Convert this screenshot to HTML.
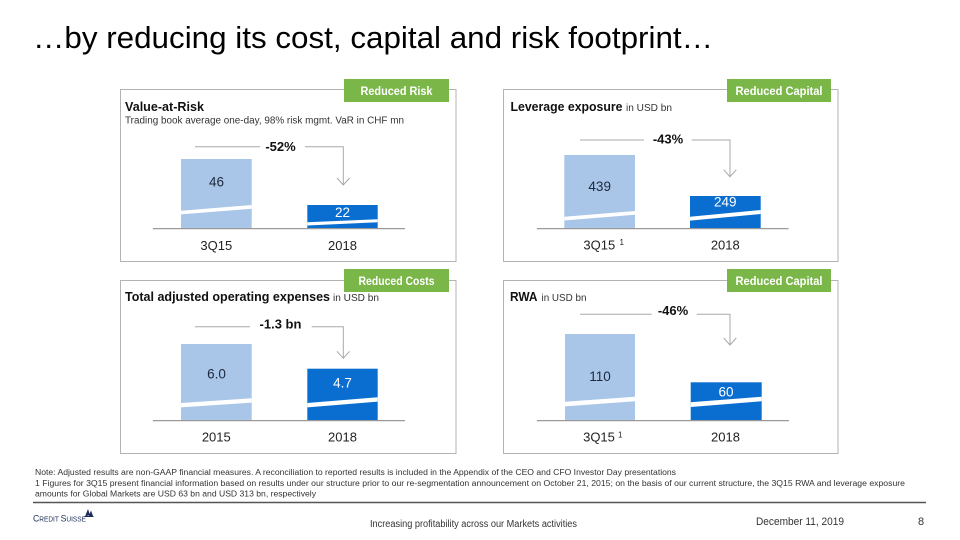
<!DOCTYPE html>
<html>
<head>
<meta charset="utf-8">
<style>
html,body{margin:0;padding:0;background:#fff;}
svg{display:block;}
text{font-family:"Liberation Sans",Arial,sans-serif;}
</style>
</head>
<body>
<svg width="960" height="540" viewBox="0 0 960 540" xmlns="http://www.w3.org/2000/svg">
<rect x="0" y="0" width="960" height="540" fill="#fff"/>

<!-- Title -->
<text x="33" y="48" font-size="30.5" fill="#000" textLength="680" lengthAdjust="spacingAndGlyphs">…by reducing its cost, capital and risk footprint…</text>

<!-- ===== Panel boxes ===== -->
<g fill="none" stroke="#b3b3b3" stroke-width="1">
  <rect x="120.5" y="89.5" width="335.5" height="172"/>
  <rect x="503.5" y="89.5" width="334.5" height="172"/>
  <rect x="120.5" y="280.5" width="335.5" height="173"/>
  <rect x="503.5" y="280.5" width="334.5" height="173"/>
</g>

<!-- Green labels -->
<g fill="#7ab648">
  <rect x="344" y="79" width="105" height="23"/>
  <rect x="727" y="79" width="104" height="23"/>
  <rect x="344" y="269" width="105" height="23"/>
  <rect x="727" y="269" width="104" height="23"/>
</g>
<g fill="#fff" font-weight="bold" font-size="11.5" text-anchor="middle">
  <text x="396.5" y="95" textLength="72" lengthAdjust="spacingAndGlyphs">Reduced Risk</text>
  <text x="779" y="95" textLength="87" lengthAdjust="spacingAndGlyphs">Reduced Capital</text>
  <text x="396.5" y="285" textLength="76" lengthAdjust="spacingAndGlyphs">Reduced Costs</text>
  <text x="779" y="285" textLength="87" lengthAdjust="spacingAndGlyphs">Reduced Capital</text>
</g>

<!-- Panel titles -->
<text x="125" y="111" font-size="12.5" font-weight="bold" fill="#111" textLength="79" lengthAdjust="spacingAndGlyphs">Value-at-Risk</text>
<text x="125" y="123.5" font-size="10" fill="#333" textLength="279" lengthAdjust="spacingAndGlyphs">Trading book average one-day, 98% risk mgmt. VaR in CHF mn</text>

<text x="510.5" y="111" font-size="12.5" font-weight="bold" fill="#111" textLength="112" lengthAdjust="spacingAndGlyphs">Leverage exposure</text>
<text x="626" y="111" font-size="10" fill="#333" textLength="46" lengthAdjust="spacingAndGlyphs">in USD bn</text>

<text x="125" y="301" font-size="12.5" font-weight="bold" fill="#111" textLength="205" lengthAdjust="spacingAndGlyphs">Total adjusted operating expenses</text>
<text x="333" y="301" font-size="10" fill="#333" textLength="46" lengthAdjust="spacingAndGlyphs">in USD bn</text>

<text x="510" y="301" font-size="12.5" font-weight="bold" fill="#111" textLength="27.5" lengthAdjust="spacingAndGlyphs">RWA</text>
<text x="541.5" y="301" font-size="10" fill="#333" textLength="45" lengthAdjust="spacingAndGlyphs">in USD bn</text>

<!-- ===== Bars ===== -->
<rect x="181" y="159" width="70.7" height="69.3" fill="#a9c5e8"/>
<polygon points="181,210.7 251.7,205 251.7,208.7 181,214.4" fill="#fff"/>
<rect x="307.3" y="205" width="70.4" height="23.3" fill="#0a6ed1"/>
<polygon points="307.3,222.3 377.7,219.3 377.7,222.3 307.3,225.5" fill="#fff"/>

<rect x="564.3" y="155" width="70.7" height="73.3" fill="#a9c5e8"/>
<polygon points="564.3,216.7 635,211 635,214.8 564.3,220.5" fill="#fff"/>
<rect x="690" y="196" width="70.7" height="32.3" fill="#0a6ed1"/>
<polygon points="690,216.7 760.7,210 760.7,214 690,220.6" fill="#fff"/>

<rect x="181" y="344" width="70.7" height="76.3" fill="#a9c5e8"/>
<polygon points="181,403 251.7,398.3 251.7,402.6 181,407.4" fill="#fff"/>
<rect x="307.3" y="368.7" width="70.4" height="51.6" fill="#0a6ed1"/>
<polygon points="307.3,403 377.7,397.3 377.7,401.6 307.3,407.4" fill="#fff"/>

<rect x="565" y="334" width="70" height="86.3" fill="#a9c5e8"/>
<polygon points="565,401.7 635,396.7 635,401.2 565,406.4" fill="#fff"/>
<rect x="690.7" y="382.3" width="71" height="38" fill="#0a6ed1"/>
<polygon points="690.7,402.3 761.7,396.7 761.7,401.2 690.7,407" fill="#fff"/>

<!-- Axis lines -->
<g stroke="#9a9a9a" stroke-width="1.2">
  <line x1="153" y1="228.6" x2="405" y2="228.6"/>
  <line x1="537" y1="228.6" x2="788.5" y2="228.6"/>
  <line x1="153" y1="420.6" x2="405" y2="420.6"/>
  <line x1="537" y1="420.6" x2="789" y2="420.6"/>
</g>

<!-- Arrow guides -->
<g fill="none" stroke="#a8a8a8" stroke-width="1">
  <line x1="195" y1="146.7" x2="260" y2="146.7"/>
  <polyline points="305,146.7 343.3,146.7 343.3,185"/>
  <polyline points="337,178 343.3,185 349.6,178"/>

  <line x1="580" y1="140" x2="644" y2="140"/>
  <polyline points="691.7,140 730,140 730,176.7"/>
  <polyline points="723.7,169.7 730,176.7 736.3,169.7"/>

  <line x1="195" y1="326.7" x2="250" y2="326.7"/>
  <polyline points="311.7,326.7 343.3,326.7 343.3,358.3"/>
  <polyline points="337,351.3 343.3,358.3 349.6,351.3"/>

  <line x1="580" y1="314.3" x2="651.7" y2="314.3"/>
  <polyline points="696.7,314.3 730,314.3 730,345"/>
  <polyline points="723.7,338 730,345 736.3,338"/>
</g>

<!-- Change labels -->
<g font-weight="bold" font-size="13" fill="#111" text-anchor="middle">
  <text x="280.5" y="151">-52%</text>
  <text x="668" y="143.5">-43%</text>
  <text x="280.5" y="328.5">-1.3 bn</text>
  <text x="673" y="315">-46%</text>
</g>

<!-- Value labels -->
<g font-size="13.5" text-anchor="middle">
  <text x="216.5" y="186.7" fill="#1e2a3c">46</text>
  <text x="342.5" y="217" fill="#fff">22</text>
  <text x="599.7" y="191" fill="#1e2a3c">439</text>
  <text x="725.3" y="206.7" fill="#fff">249</text>
  <text x="216.5" y="378.3" fill="#1e2a3c">6.0</text>
  <text x="342.5" y="387.7" fill="#fff">4.7</text>
  <text x="600" y="381" fill="#1e2a3c">110</text>
  <text x="726" y="396.7" fill="#fff">60</text>
</g>

<!-- X labels -->
<g font-size="13" fill="#222" text-anchor="middle">
  <text x="216.3" y="250">3Q15</text>
  <text x="342.5" y="250">2018</text>
  <text x="599.3" y="249.3">3Q15</text>
  <text x="725.3" y="249.3">2018</text>
  <text x="216.3" y="441.7">2015</text>
  <text x="342.5" y="441.7">2018</text>
  <text x="599" y="441.7">3Q15</text>
  <text x="725.5" y="441.7">2018</text>
</g>
<g font-size="8" fill="#222">
  <text x="619.5" y="245">1</text>
  <text x="618" y="437.5">1</text>
</g>

<!-- Footnotes -->
<g font-size="8" fill="#333">
  <text x="35" y="475" textLength="641" lengthAdjust="spacingAndGlyphs">Note: Adjusted results are non-GAAP financial measures.  A reconciliation to reported results is included in the Appendix of the CEO and CFO Investor Day presentations</text>
  <text x="35" y="486" textLength="870" lengthAdjust="spacingAndGlyphs">1  Figures for 3Q15 present financial information based on results under our structure prior to our re-segmentation announcement on October 21, 2015; on the basis of our current structure, the 3Q15 RWA and leverage exposure</text>
  <text x="35" y="496.5" textLength="281" lengthAdjust="spacingAndGlyphs">amounts for Global Markets are USD 63 bn and USD 313 bn, respectively</text>
</g>

<!-- Footer rule -->
<line x1="33" y1="502.5" x2="926" y2="502.5" stroke="#555" stroke-width="1.4"/>

<!-- Logo -->
<text x="33" y="521.5" font-family="Liberation Serif, serif" fill="#1c2d5a" textLength="53" lengthAdjust="spacingAndGlyphs"><tspan font-size="9.5">C</tspan><tspan font-size="7.2">REDIT </tspan><tspan font-size="9.5">S</tspan><tspan font-size="7.2">UISSE</tspan></text>
<g fill="#1c2d5a">
  <polygon points="85,516.5 88,509 90,515"/>
  <polygon points="88.5,516.5 91,510.5 93,516"/>
  <rect x="84.5" y="516" width="9" height="1"/>
</g>

<!-- Footer texts -->
<text x="370" y="527" font-size="10" fill="#333" textLength="207" lengthAdjust="spacingAndGlyphs">Increasing profitability across our Markets activities</text>
<text x="756" y="525" font-size="11" fill="#333" textLength="88" lengthAdjust="spacingAndGlyphs">December 11, 2019</text>
<text x="918" y="525" font-size="11" fill="#333">8</text>
</svg>
</body>
</html>
